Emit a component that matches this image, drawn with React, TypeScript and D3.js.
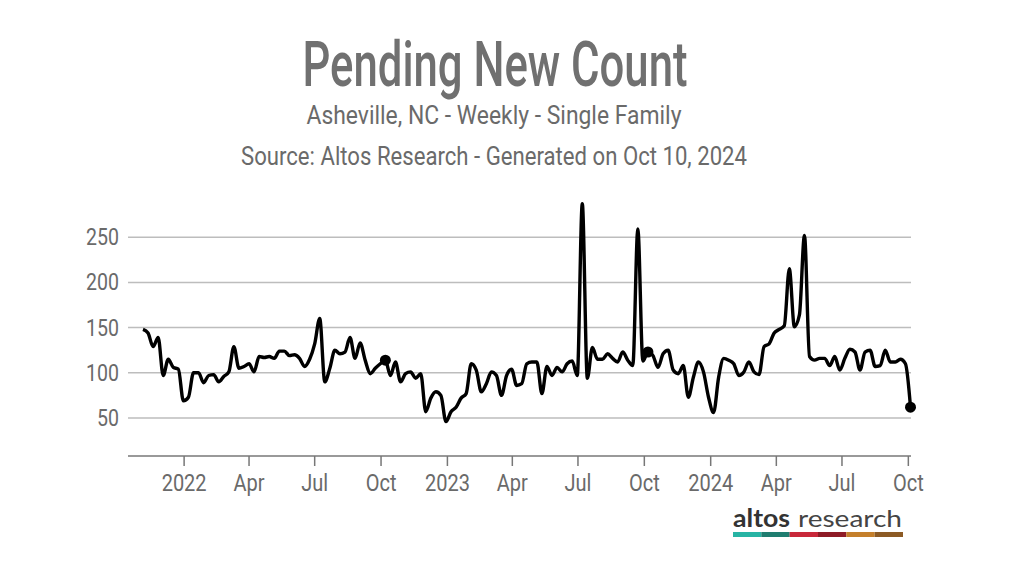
import React from "react";
import * as d3 from "d3";

// Weekly pending new count, Asheville NC
const values: number[] = [
  148, 144, 129, 139, 97, 115, 106, 104, 69, 73,
  100, 100, 89, 97, 98, 90, 96, 101, 129, 105,
  107, 110, 101, 118, 117, 118, 116, 124, 124, 119,
  120, 116, 107, 115, 132, 160, 90, 105, 125, 121,
  123, 139, 116, 133, 114, 99, 105, 110, 114, 97,
  112, 90, 99, 101, 94, 99, 57, 72, 79, 75,
  46, 57, 62, 72, 77, 110, 103, 79, 88, 101,
  97, 75, 97, 104, 86, 88, 110, 112, 112, 77,
  107, 97, 106, 101, 110, 113, 97, 287, 94, 128,
  115, 115, 121, 116, 112, 123, 114, 108, 259, 113,
  123, 119, 106, 121, 125, 103, 99, 108, 73, 95,
  112, 101, 73, 56, 95, 116, 114, 110, 97, 101,
  112, 101, 98, 129, 132, 144, 148, 152, 215, 151,
  164, 252, 118, 114, 116, 116, 108, 118, 103, 116,
  126, 123, 103, 123, 125, 107, 108, 125, 112, 112,
  115, 110, 62,
];
const startDate = new Date(2021, 10, 5);
const highlightIdx: number[] = [48, 100, 152];

const yTicks: number[] = [50, 100, 150, 200, 250];
const xTickDates: Date[] = [
  new Date(2022, 0, 1), new Date(2022, 3, 1), new Date(2022, 6, 1), new Date(2022, 9, 1),
  new Date(2023, 0, 1), new Date(2023, 3, 1), new Date(2023, 6, 1), new Date(2023, 9, 1),
  new Date(2024, 0, 1), new Date(2024, 3, 1), new Date(2024, 6, 1), new Date(2024, 9, 1),
];
const xTickLabels: string[] = ["2022", "Apr", "Jul", "Oct", "2023", "Apr", "Jul", "Oct", "2024", "Apr", "Jul", "Oct"];

const title = "Pending New Count";
const subtitle = "Asheville, NC - Weekly - Single Family";
const source = "Source: Altos Research - Generated on Oct 10, 2024";
const logoColors: string[] = ["#27b4a4", "#1f7d70", "#c8283a", "#8e1b26", "#c47f2b", "#8c5a24"];

export default function App() {
  const W = 1022, H = 576;
  const dates = values.map((_, i) => d3.timeDay.offset(startDate, 7 * i));
  const data = values.map((v, i) => ({ d: dates[i], v }));
  const x = d3.scaleTime().domain([dates[0], dates[dates.length - 1]]).range([143, 910.5]);
  const y = d3.scaleLinear().domain([8, 290]).range([456, 201]);
  const line = d3.line<{ d: Date; v: number }>()
    .x((p) => x(p.d))
    .y((p) => y(p.v))
    .curve(d3.curveMonotoneX);
  const font = "Roboto, 'Noto Sans', sans-serif";
  const gridLeft = 128, gridRight = 911;
  const logoX0 = 733, logoX1 = 903;
  const segW = (logoX1 - logoX0) / logoColors.length;

  return (
    <svg width={W} height={H} style={{ position: "absolute", left: 0, top: 0, background: "#fff" }} fontFamily={font}>
      <rect width={W} height={H} fill="#fff" />
      <text x={495} y={86} textAnchor="middle" fontSize={63} fontWeight={500} fill="#707070"
        textLength={385} lengthAdjust="spacingAndGlyphs">{title}</text>
      <text x={494} y={124} textAnchor="middle" fontSize={25} fill="#6a6a6a"
        textLength={375} lengthAdjust="spacingAndGlyphs">{subtitle}</text>
      <text x={494} y={165} textAnchor="middle" fontSize={25} fill="#6a6a6a"
        textLength={506} lengthAdjust="spacingAndGlyphs">{source}</text>

      {yTicks.map((t) => (
        <g key={t}>
          <line x1={gridLeft} x2={gridRight} y1={y(t)} y2={y(t)} stroke="#bdbdbd" strokeWidth={1.5} />
          <g transform={`translate(119,${y(t) + 8}) scale(0.85,1)`}>
            <text textAnchor="end" fontSize={23} fill="#6a6a6a">{t}</text>
          </g>
        </g>
      ))}
      <line x1={gridLeft} x2={gridRight} y1={456} y2={456} stroke="#777" strokeWidth={1.5} />
      {xTickDates.map((d, i) => (
        <g key={i}>
          <line x1={x(d)} x2={x(d)} y1={456} y2={466} stroke="#777" strokeWidth={1.5} />
          <g transform={`translate(${x(d)},${491}) scale(0.87,1)`}>
            <text textAnchor="middle" fontSize={23} fill="#6a6a6a">{xTickLabels[i]}</text>
          </g>
        </g>
      ))}

      <path d={line(data) || ""} fill="none" stroke="#000" strokeWidth={3.4} strokeLinejoin="round" />
      {highlightIdx.map((i) => (
        <circle key={i} cx={x(dates[i])} cy={y(values[i])} r={5.5} fill="#000" />
      ))}

      <text x={logoX0} y={527} fontSize={24} fontFamily="Lato, 'Open Sans', sans-serif" fontWeight={700} fill="#333"
        textLength={57} lengthAdjust="spacingAndGlyphs">altos</text>
      <text x={798} y={527} fontSize={24} fontFamily="Lato, 'Open Sans', sans-serif" fontWeight={400} fill="#444"
        textLength={104} lengthAdjust="spacingAndGlyphs">research</text>
      {logoColors.map((c, i) => (
        <rect key={c} x={logoX0 + i * segW} y={532} width={segW} height={5} fill={c} />
      ))}
    </svg>
  );
}
